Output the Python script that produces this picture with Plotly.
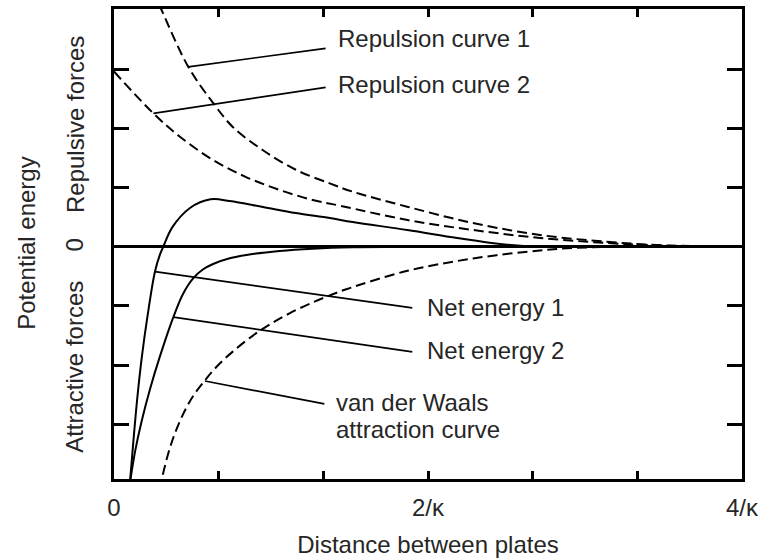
import plotly.graph_objects as go

# ---- data ----
rep1_x = [0.25, 0.303, 0.473, 0.631, 0.758, 0.949, 1.158, 1.374, 1.52, 1.867, 2.287, 2.713, 3.138, 3.455, 3.75, 4.0]
rep1_y = [4.32, 4.00, 3.04, 2.43, 2.02, 1.63, 1.30, 1.07, 0.93, 0.676, 0.40, 0.198, 0.084, 0.029, 0.008, 0.0]

rep2_x = [0.0, 0.251, 0.420, 0.631, 0.841, 1.056, 1.266, 1.444, 1.869, 2.287, 2.713, 3.138, 3.455, 3.75, 4.0]
rep2_y = [2.96, 2.253, 1.858, 1.465, 1.177, 0.958, 0.789, 0.69, 0.451, 0.282, 0.147, 0.0625, 0.02, 0.005, 0.0]

net1_x = [0.101, 0.124, 0.149, 0.177, 0.212, 0.261, 0.293, 0.314, 0.372, 0.484, 0.615, 0.737, 0.949, 1.158, 1.374, 1.52, 1.869, 2.186, 2.459, 2.713, 3.2, 4.0]
net1_y = [-4.0, -3.27, -2.54, -1.87, -1.20, -0.42, -0.13, 0.0, 0.33, 0.654, 0.80, 0.772, 0.671, 0.569, 0.485, 0.417, 0.282, 0.147, 0.046, 0.0, 0.0, 0.0]

net2_x = [0.101, 0.135, 0.176, 0.230, 0.293, 0.378, 0.441, 0.504, 0.568, 0.631, 0.737, 0.843, 1.054, 1.266, 1.52, 2.0, 4.0]
net2_y = [-4.0, -3.45, -2.95, -2.40, -1.85, -1.19, -0.79, -0.534, -0.382, -0.292, -0.196, -0.140, -0.073, -0.034, -0.01, 0.0, 0.0]

vdw_x = [0.29, 0.303, 0.346, 0.388, 0.441, 0.504, 0.579, 0.652, 0.758, 0.885, 0.991, 1.118, 1.266, 1.393, 1.48, 1.869, 2.287, 2.713, 2.922, 3.3, 4.0]
vdw_y = [-4.1, -3.94, -3.49, -3.154, -2.825, -2.523, -2.26, -2.034, -1.769, -1.502, -1.316, -1.126, -0.941, -0.804, -0.719, -0.408, -0.199, -0.063, -0.021, 0.0, 0.0]

x_tickvals = [0, 2/3, 4/3, 2, 8/3, 10/3, 4]
x_ticktext = ["0", "", "", "2/\u03ba", "", "", "4/\u03ba"]
y_tickvals = [-3, -2, -1, 0, 1, 2, 3]

labels = ["Repulsion curve 1", "Repulsion curve 2", "Net energy 1", "Net energy 2",
          "van der Waals", "attraction curve"]

FONT = "Liberation Sans, Arial, Helvetica, sans-serif"
TXT = "#262626"

fig = go.Figure()

dash = "10px,5px"
for xs, ys, d in [(rep1_x, rep1_y, dash), (rep2_x, rep2_y, dash),
                  (net1_x, net1_y, "solid"), (net2_x, net2_y, "solid"),
                  (vdw_x, vdw_y, dash)]:
    fig.add_trace(go.Scatter(x=xs, y=ys, mode="lines",
                             line=dict(color="black", width=2, dash=d, shape="spline", smoothing=1.0),
                             hoverinfo="skip"))

# leader lines (curve point -> label)
leaders = [((0.473, 3.04), (1.348, 3.351)),
           ((0.251, 2.253), (1.348, 2.693)),
           ((0.261, -0.42), (1.900, -1.035)),
           ((0.378, -1.19), (1.900, -1.779)),
           ((0.579, -2.27), (1.340, -2.657))]
for (x0, y0), (x1, y1) in leaders:
    fig.add_shape(type="line", xref="x", yref="y", x0=x0, y0=y0, x1=x1, y1=y1,
                  line=dict(color="black", width=1.7))

label_pos = [(1.412, 3.52), (1.412, 2.736), (1.983, -1.022), (1.983, -1.757),
             (1.399, -2.64), (1.399, -3.09)]
for t, (x, y) in zip(labels, label_pos):
    fig.add_annotation(x=x, y=y, xref="x", yref="y", text=t, showarrow=False,
                       xanchor="left", yanchor="middle",
                       font=dict(family=FONT, size=24, color=TXT))

# y-side texts
side = [("Repulsive forces", -0.0621, 2.056), ("0", -0.0621, 0.02),
        ("Attractive forces", -0.0621, -2.03), ("Potential energy", -0.1385, 0.05)]
for t, x, y in side:
    fig.add_annotation(x=x, y=y, xref="paper", yref="y", text=t, showarrow=False,
                       textangle=-90, xanchor="center", yanchor="middle",
                       font=dict(family=FONT, size=24, color=TXT))

fig.update_layout(
    width=762, height=558,
    margin=dict(l=114, r=20, t=9, b=79),
    plot_bgcolor="white", paper_bgcolor="white",
    showlegend=False,
    font=dict(family=FONT, size=24, color=TXT),
)
fig.update_xaxes(range=[0, 4], tickvals=x_tickvals, ticktext=x_ticktext,
                 ticks="inside", ticklen=8, tickwidth=3, tickcolor="black",
                 showline=True, linewidth=3, linecolor="black", mirror="ticks",
                 showgrid=False, zeroline=False, automargin=False,
                 ticklabelstandoff=5,
                 tickfont=dict(family=FONT, size=24, color=TXT),
                 title=dict(text="Distance between plates", standoff=17,
                            font=dict(family=FONT, size=24, color=TXT)))
fig.update_yaxes(range=[-3.926, 4.017], tickvals=y_tickvals,
                 ticktext=[""] * len(y_tickvals),
                 ticks="inside", ticklen=15, tickwidth=3, tickcolor="black",
                 showline=True, linewidth=3, linecolor="black", mirror="ticks",
                 showgrid=False, zeroline=True, zerolinewidth=3, zerolinecolor="black",
                 automargin=False)

fig.write_html("out.html")
